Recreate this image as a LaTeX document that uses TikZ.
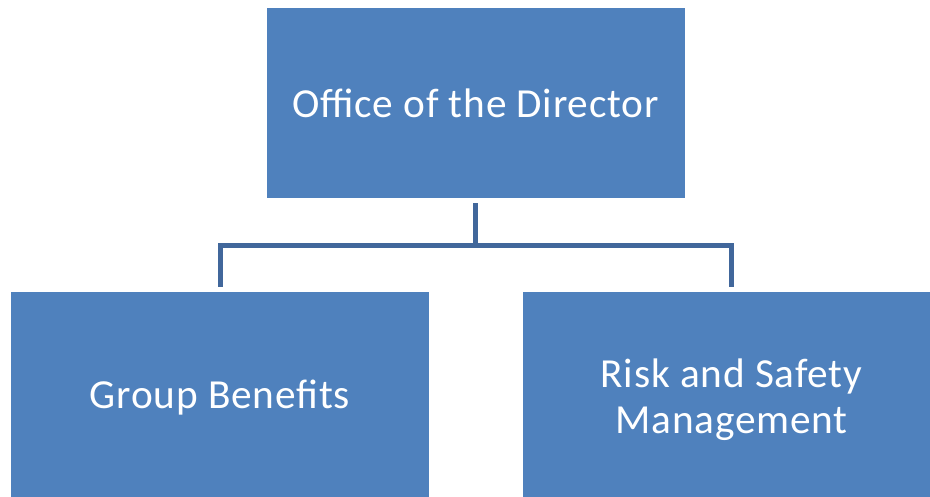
\documentclass[tikz,border=0pt]{standalone}
\usepackage{fontspec}
\setmainfont{Carlito}[LetterSpace=2]
\usepackage{tikz}
\usetikzlibrary{positioning,calc}
\definecolor{OfficeBlue}{HTML}{4F81BD}
\definecolor{OfficeLine}{HTML}{41679B}

\begin{document}
\begin{tikzpicture}[
    unitbox/.style={fill=OfficeBlue,text=white,align=center,
      minimum width=8.36cm,font=\fontsize{23.5}{26}\selectfont},
    link/.style={draw=OfficeLine,line width=0.1cm}
  ]
  \useasboundingbox (0,0) rectangle (18.6,9.92);
  \clip (0,0) rectangle (18.6,9.92);
  % boxes
  \node[unitbox,minimum height=3.8cm] (director) at (9.51,7.86) {Office of the Director};
  \node[unitbox,minimum height=4.24cm] (benefits) at (4.40,1.96) {Group Benefits};
  \node[unitbox,minimum height=4.32cm] (risk) at (14.63,1.92) {Risk and Safety\\Management};
  % connectors
  \coordinate[below=0.94cm of director.south] (bus);
  \draw[link,shorten <=0.1cm] (director.south) -- (bus);
  \draw[link,shorten >=0.1cm] (bus) -| (benefits.north);
  \draw[link,shorten >=0.1cm] (bus) -| (risk.north);
\end{tikzpicture}
\end{document}
